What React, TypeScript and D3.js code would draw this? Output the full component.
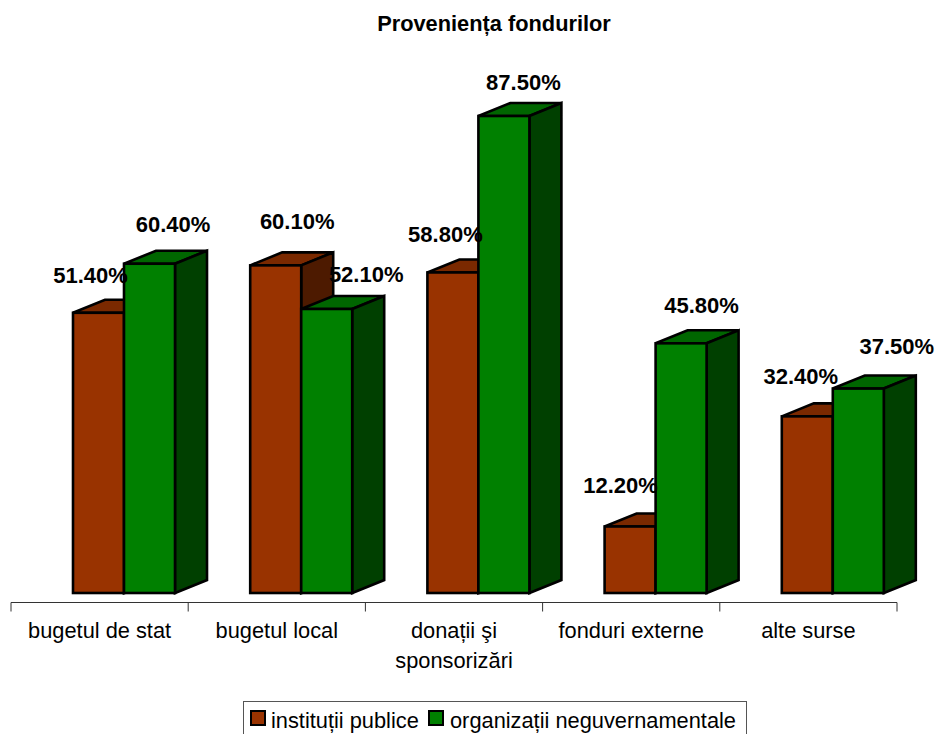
import React from "react";
import * as d3 from "d3";

const categories = ["bugetul de stat", "bugetul local", "donații şi sponsorizări", "fonduri externe", "alte surse"];
const publicInstitutions = [51.4, 60.1, 58.8, 12.2, 32.4];
const ngos = [60.4, 52.1, 87.5, 45.8, 37.5];
const seriesNames = ["instituții publice", "organizații neguvernamentale"];

// Hand-placed data labels, as [dx, dy] from each bar's top-left corner
const publicLabelOffsets = [[17.5, -30], [47, -36], [18, -30], [16, -33], [19, -32]];
const ngoLabelOffsets = [[49, -32], [65, -27], [45, -26], [46, -30], [64, -35]];

const WIDTH = 937;
const HEIGHT = 734;
const FONT = "'Liberation Sans', Arial, sans-serif";
const DEPTH_X = 32;
const DEPTH_Y = 13;
const BAR_W = 51;
const BAR_INSET = 62;

const x = d3.scaleBand<string>().domain(categories).range([11, 897]);
const y = d3.scaleLinear().domain([0, 87.5]).range([593, 116]);

const BROWN = { front: "#993300", top: "#7a2900", side: "#4d1a00" };
const GREEN = { front: "#008000", top: "#006600", side: "#004000" };

function Bar({ left, value, c }: { left: number; value: number; c: typeof BROWN }) {
  const top = y(value);
  const base = y(0);
  const right = left + BAR_W;
  const stroke = { stroke: "#000", strokeWidth: 2.6, strokeLinejoin: "miter" as const };
  return (
    <g>
      <polygon
        points={`${left},${top} ${left + DEPTH_X},${top - DEPTH_Y} ${right + DEPTH_X},${top - DEPTH_Y} ${right},${top}`}
        fill={c.top}
        {...stroke}
      />
      <polygon
        points={`${right},${top} ${right + DEPTH_X},${top - DEPTH_Y} ${right + DEPTH_X},${base - DEPTH_Y} ${right},${base}`}
        fill={c.side}
        {...stroke}
      />
      <rect x={left} y={top} width={BAR_W} height={base - top} fill={c.front} {...stroke} />
    </g>
  );
}

export default function App() {
  const ticks = [...categories.map((d) => x(d)!), x.range()[1]];
  const axisY = 602.5;
  const labelStyle = { fontFamily: FONT, fontWeight: 700, fontSize: 22, fill: "#000" };
  const textStyle = { fontFamily: FONT, fontSize: 21.8, fill: "#000" };
  return (
    <svg width={WIDTH} height={HEIGHT} style={{ position: "absolute", left: 0, top: 0, background: "#fff" }}>
      <text x={494} y={31} textAnchor="middle" style={{ fontFamily: FONT, fontWeight: 700, fontSize: 21.8 }}>
        Proveniența fondurilor
      </text>

      {categories.map((d, i) => (
        <g key={d}>
          <Bar left={x(d)! + BAR_INSET} value={publicInstitutions[i]} c={BROWN} />
          <Bar left={x(d)! + BAR_INSET + BAR_W} value={ngos[i]} c={GREEN} />
        </g>
      ))}

      <line x1={ticks[0]} x2={ticks[5]} y1={axisY} y2={axisY} stroke="#333" strokeWidth={1} />
      {ticks.map((t) => (
        <line key={t} x1={t} x2={t} y1={axisY} y2={axisY + 9} stroke="#333" strokeWidth={1} />
      ))}

      {categories.map((d, i) => {
        const cx = x(d)! + x.bandwidth() / 2;
        if (i === 2) {
          return (
            <text key={d} textAnchor="middle" style={textStyle}>
              <tspan x={cx} y={638}>donații şi</tspan>
              <tspan x={cx} y={668}>sponsorizări</tspan>
            </text>
          );
        }
        return (
          <text key={d} x={cx} y={638} textAnchor="middle" style={textStyle}>
            {d}
          </text>
        );
      })}

      {categories.map((d, i) => {
        const brownLeft = x(d)! + BAR_INSET;
        const greenLeft = brownLeft + BAR_W;
        return (
          <g key={d} textAnchor="middle" style={labelStyle}>
            <text x={brownLeft + publicLabelOffsets[i][0]} y={y(publicInstitutions[i]) + publicLabelOffsets[i][1]}>
              {publicInstitutions[i].toFixed(2)}%
            </text>
            <text x={greenLeft + ngoLabelOffsets[i][0]} y={y(ngos[i]) + ngoLabelOffsets[i][1]}>
              {ngos[i].toFixed(2)}%
            </text>
          </g>
        );
      })}

      <rect x={243.5} y={701.5} width={503} height={40} fill="#fff" stroke="#555" strokeWidth={1} />
      <rect x={251} y={711} width={14} height={14} fill={BROWN.front} stroke="#000" strokeWidth={2} />
      <text x={271} y={728} style={textStyle}>
        {seriesNames[0]}
      </text>
      <rect x={429} y={711} width={14} height={14} fill={GREEN.front} stroke="#000" strokeWidth={2} />
      <text x={450} y={728} style={textStyle}>
        {seriesNames[1]}
      </text>
    </svg>
  );
}
